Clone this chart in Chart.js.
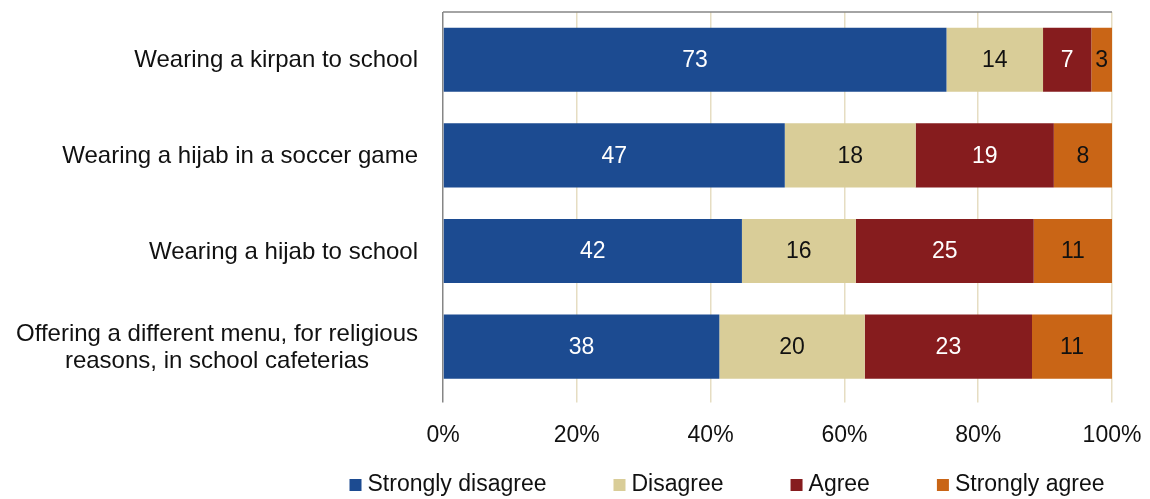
<!DOCTYPE html>
<html>
<head>
<meta charset="utf-8">
<script src="https://cdn.jsdelivr.net/npm/chart.js@4.4.1/dist/chart.umd.min.js"></script>
<style>
    html, body { margin: 0; padding: 0; background: #fff; }
    #wrap { width: 1150px; height: 499px; position: relative; }
</style>
</head>
<body>
<div id="wrap"><canvas id="chart"></canvas></div>
<script>
    'use strict';

    // Survey answers per item (percent of respondents)
    const categories = [
        'Wearing a kirpan to school',
        'Wearing a hijab in a soccer game',
        'Wearing a hijab to school',
        ['Offering a different menu, for religious', 'reasons, in school cafeterias']
    ];
    const seriesNames = ['Strongly disagree', 'Disagree', 'Agree', 'Strongly agree'];
    const stronglyDisagree = [73, 47, 42, 38];
    const disagree = [14, 18, 16, 20];
    const agree = [7, 19, 25, 23];
    const stronglyAgree = [3, 8, 11, 11];
    const tickValues = [0, 20, 40, 60, 80, 100];

    const FONT = "'Liberation Sans', Arial, sans-serif";
    const COLORS = ['#1c4b91', '#d9cd98', '#861c1e', '#c96516'];
    const LABEL_COLORS = ['#ffffff', '#111111', '#ffffff', '#111111'];

    const rawSeries = [stronglyDisagree, disagree, agree, stronglyAgree];
    const rowTotals = categories.map(function(_, i) {
        return rawSeries.reduce(function(s, arr) { return s + arr[i]; }, 0);
    });

    const datasets = rawSeries.map(function(arr, k) {
        return {
            label: seriesNames[k],
            raw: arr,
            data: arr.map(function(v, i) { return v / rowTotals[i] * 100; }),
            backgroundColor: COLORS[k],
            borderWidth: 0,
            barPercentage: 0.67,
            categoryPercentage: 1
        };
    });

    // Value labels in the middle of each segment
    const valueLabels = {
        id: 'valueLabels',
        afterDatasetsDraw: function(chart) {
            const ctx = chart.ctx;
            ctx.save();
            ctx.font = '23px ' + FONT;
            ctx.textAlign = 'center';
            ctx.textBaseline = 'middle';
            chart.data.datasets.forEach(function(ds, k) {
                chart.getDatasetMeta(k).data.forEach(function(bar, i) {
                    const cx = (bar.x + bar.base) / 2;
                    ctx.fillStyle = LABEL_COLORS[k];
                    ctx.fillText(String(ds.raw[i]), cx, bar.y + 1);
                });
            });
            ctx.restore();
        }
    };

    // Category names left of the plot, top border line and legend
    const frame = {
        id: 'frame',
        afterDraw: function(chart) {
            const ctx = chart.ctx;
            const area = chart.chartArea;
            const yScale = chart.scales.y;
            ctx.save();

            ctx.strokeStyle = '#868686';
            ctx.lineWidth = 1.5;
            ctx.beginPath();
            ctx.moveTo(area.left, area.top);
            ctx.lineTo(area.right, area.top);
            ctx.stroke();

            ctx.font = '24px ' + FONT;
            ctx.fillStyle = '#111111';
            ctx.textBaseline = 'middle';
            ctx.textAlign = 'center';
            const rightEdge = area.left - 25;
            chart.data.labels.forEach(function(lbl, i) {
                const lines = Array.isArray(lbl) ? lbl : [lbl];
                const w = Math.max.apply(null, lines.map(function(l) { return ctx.measureText(l).width; }));
                const cy = yScale.getPixelForTick(i);
                const lh = 27;
                lines.forEach(function(l, j) {
                    ctx.fillText(l, rightEdge - w / 2, cy + 1 + (j - (lines.length - 1) / 2) * lh);
                });
            });

            // legend
            ctx.font = '23px ' + FONT;
            const box = 12, gapText = 6, gapItem = 67;
            const widths = chart.data.datasets.map(function(ds) { return box + gapText + ctx.measureText(ds.label).width; });
            const total = widths.reduce(function(a, b) { return a + b; }, 0) + gapItem * (widths.length - 1);
            let x = 727 - total / 2;
            const ly = 485;
            ctx.textAlign = 'left';
            chart.data.datasets.forEach(function(ds, k) {
                ctx.fillStyle = ds.backgroundColor;
                ctx.fillRect(x, ly - 6, box, box);
                ctx.fillStyle = '#111111';
                ctx.fillText(ds.label, x + box + gapText, ly);
                x += widths[k] + gapItem;
            });
            ctx.restore();
        }
    };

    new Chart(document.getElementById('chart'), {
        type: 'bar',
        data: { labels: categories, datasets: datasets },
        plugins: [valueLabels, frame],
        options: {
            indexAxis: 'y',
            responsive: true,
            maintainAspectRatio: false,
            animation: false,
            layout: { padding: { left: 435, right: 38, top: 12, bottom: 31 } },
            plugins: { legend: { display: false }, tooltip: { enabled: false } },
            scales: {
                x: {
                    stacked: true,
                    min: 0,
                    max: 100,
                    afterBuildTicks: function(scale) {
                        scale.ticks = tickValues.map(function(v) { return { value: v }; });
                    },
                    afterFit: function(scale) {
                        // end labels may overhang; the plot edges stay fixed
                        scale.paddingLeft = 0;
                        scale.paddingRight = 0;
                    },
                    border: { display: false },
                    grid: {
                        color: function(c) { return c.tick && c.tick.value === 0 ? '#868686' : '#e6ddc2'; },
                        lineWidth: 1.5,
                        tickLength: 8
                    },
                    ticks: {
                        padding: 19,
                        color: '#111111',
                        font: { family: FONT, size: 23 },
                        callback: function(v) { return v + '%'; }
                    }
                },
                y: {
                    stacked: true,
                    border: { display: false },
                    grid: { display: false },
                    ticks: { display: false }
                }
            }
        }
    });
</script>
</body>
</html>
